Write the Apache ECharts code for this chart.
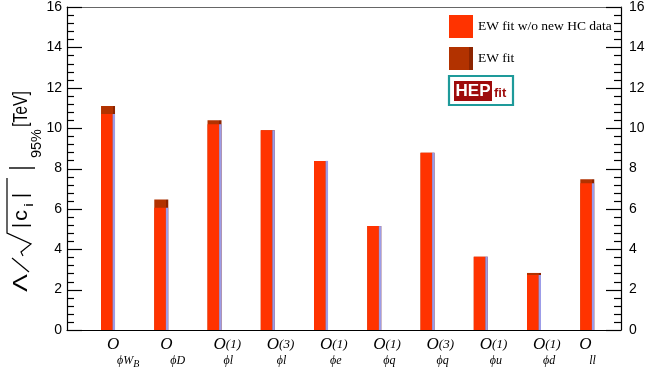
<!DOCTYPE html>
<html>
<head>
<meta charset="utf-8">
<script src="https://cdn.jsdelivr.net/npm/echarts@6/dist/echarts.min.js"></script>
<style>
  html, body { margin: 0; padding: 0; background: #fff; }
  #chart { width: 656px; height: 374px; }
</style>
</head>
<body>
<div id="chart"></div>
<script>
// Operators (x categories), split into their typeset parts
const categories = ['O_phiWB', 'O_phiD', 'O_phil1', 'O_phil3', 'O_phie1', 'O_phiq1', 'O_phiq3', 'O_phiu1', 'O_phid1', 'O_ll'];
const operatorSup = ['', '', '(1)', '(3)', '(1)', '(1)', '(3)', '(1)', '(1)', ''];
const operatorSub = ['ϕW', 'ϕD', 'ϕl', 'ϕl', 'ϕe', 'ϕq', 'ϕq', 'ϕu', 'ϕd', 'll'];
const operatorSubSub = ['B', '', '', '', '', '', '', '', '', ''];

// 95% bounds on Lambda / sqrt(|c_i|) in TeV
const ewFit = [11.0, 6.4, 10.3, 9.8, 8.3, 5.1, 8.7, 3.6, 2.8, 7.4];
const ewFitNoHC = [10.6, 6.0, 10.1, 9.8, 8.3, 5.1, 8.7, 3.6, 2.7, 7.2];

// Value axis
const yMin = 0;
const yMax = 16;
const yStep = 2;
const yMinorDivisions = 5;

const RED = '#ff3300';
const DARK = '#b23200';
const LAVENDER = '#9c9ce8';

const chart = echarts.init(document.getElementById('chart'));

// Tick positions along the value axis: [value, isMajor]
const tickMarks = [];
for (let k = 0; k <= Math.round((yMax - yMin) / yStep) * yMinorDivisions; k++) {
  tickMarks.push([yMin + k * yStep / yMinorDivisions, k % yMinorDivisions === 0 ? 1 : 0]);
}

// Frame axes: line + labels
const frameY = (side) => ({
  type: 'value', gridIndex: 0, position: side, min: yMin, max: yMax, interval: yStep,
  axisLine: { show: true, onZero: false, lineStyle: { color: '#000', width: 1.2 } },
  axisTick: { show: false },
  splitLine: { show: false },
  axisLabel: {
    color: '#000', fontFamily: 'Liberation Sans', fontSize: 14,
    margin: side === 'left' ? 5 : 8
  }
});

const hiddenY = (grid) => ({
  type: 'value', gridIndex: grid, min: yMin, max: yMax, interval: yStep, show: false
});

function operatorLabel(value, i) {
  const lead = i === categories.length - 1 ? 'leadT' : 'lead';
  let top = '{' + lead + '| }{o|O}';
  if (operatorSup[i]) top += '{sup|' + operatorSup[i] + '}';
  let bottom = '{' + lead + '| }{gap| }{sub|' + operatorSub[i] + '}';
  if (operatorSubSub[i]) bottom += '{ssub|' + operatorSubSub[i] + '}';
  return top + '\n' + bottom;
}

// Inward frame ticks on both edges, drawn through the frame grid's scales
function renderTicks(params, api) {
  const v = api.value(1);
  const len = api.value(2) ? 15 : 7;
  const l = api.coord([0, v]);
  const r = api.coord([1, v]);
  const y = Math.round(l[1]) + 0.5;
  const st = { stroke: '#000', lineWidth: 1.2 };
  return {
    type: 'group',
    children: [
      { type: 'line', shape: { x1: l[0], y1: y, x2: l[0] + len, y2: y }, style: st },
      { type: 'line', shape: { x1: r[0] - len, y1: y, x2: r[0], y2: y }, style: st }
    ]
  };
}

// Axis title pieces laid along the reading direction of a rotated group
const measureCtx = document.createElement('canvas').getContext('2d');
function stretchedText(text, x0, x1, y, font) {
  measureCtx.font = font;
  const w = measureCtx.measureText(text).width;
  return {
    type: 'text', x: x0, y: y, scaleX: (x1 - x0) / w,
    style: { text: text, font: font, fill: '#000', textVerticalAlign: 'middle' }
  };
}

const titleChildren = [
  stretchedText('Λ', 1, 19, 0, '21px Liberation Sans'),
  { type: 'line', shape: { x1: 21, y1: 8, x2: 35, y2: -9 }, style: { stroke: '#000', lineWidth: 1.2 } },
  { type: 'polyline', shape: { points: [[37, 2], [41, 0], [49, 10], [60, -14], [115, -14]] },
    style: { stroke: '#000', lineWidth: 1.2, fill: null } },
  stretchedText('|', 65, 70, 0, '20px Liberation Sans'),
  stretchedText('c', 72, 83, 0, '20px Liberation Sans'),
  stretchedText('i', 86, 90, 8, '13px Liberation Sans'),
  stretchedText('|', 95, 100, 0, '20px Liberation Sans'),
  { type: 'line', shape: { x1: 125, y1: -12, x2: 125, y2: 14 }, style: { stroke: '#000', lineWidth: 1.4 } },
  stretchedText('95%', 135, 164, 16, '14px Liberation Sans'),
  stretchedText('[TeV]', 166, 202, 0, '21px Liberation Sans')
];

const option = {
  animation: false,
  backgroundColor: '#fff',
  grid: [
    // frame with both value axes
    { left: 67, right: 35, top: 4, bottom: 44 },
    // bars
    { left: 81.4, right: 42.1, top: 4, bottom: 44 },
    // operator labels
    { left: 73.4, right: 50.1, top: 4, bottom: 44 }
  ],
  xAxis: [
    { type: 'value', gridIndex: 0, position: 'bottom', min: 0, max: 1,
      axisLine: { show: true, onZero: false, lineStyle: { color: '#000', width: 1.2 } },
      axisTick: { show: false }, axisLabel: { show: false }, splitLine: { show: false } },
    { type: 'value', gridIndex: 0, position: 'top', min: 0, max: 1,
      axisLine: { show: true, onZero: false, lineStyle: { color: '#666', width: 1 } },
      axisTick: { show: false }, axisLabel: { show: false }, splitLine: { show: false } },
    { type: 'category', gridIndex: 1, data: categories, show: false },
    { type: 'category', gridIndex: 1, data: categories, show: false },
    { type: 'category', gridIndex: 2, data: categories,
      axisLine: { show: false }, axisTick: { show: false },
      axisLabel: {
        interval: 0, align: 'left', margin: 7,
        formatter: operatorLabel,
        rich: {
          lead: { width: 7 },
          leadT: { width: 0 },
          gap: { width: 10 },
          o: { fontFamily: 'Liberation Serif', fontStyle: 'italic', fontSize: 17, color: '#000', lineHeight: 16 },
          sup: { fontFamily: 'Liberation Serif', fontStyle: 'italic', fontSize: 13, color: '#000', lineHeight: 16 },
          sub: { fontFamily: 'Liberation Serif', fontStyle: 'italic', fontSize: 12, color: '#000', lineHeight: 15 },
          ssub: { fontFamily: 'Liberation Serif', fontStyle: 'italic', fontSize: 10, color: '#000', lineHeight: 15, padding: [7, 0, 0, 0] }
        }
      } }
  ],
  yAxis: [frameY('left'), frameY('right'), hiddenY(1), hiddenY(2)],
  legend: {
    data: ['EW fit w/o new HC data', 'EW fit'],
    orient: 'vertical', left: 444, top: 10,
    itemWidth: 24, itemHeight: 23, itemGap: 9, icon: 'rect',
    textStyle: { fontFamily: 'Liberation Serif', fontSize: 13.5, color: '#000' },
    selectedMode: false
  },
  series: [
    {
      name: 'EW fit', type: 'bar', xAxisIndex: 2, yAxisIndex: 2,
      data: ewFit, barWidth: 14,
      itemStyle: {
        color: {
          type: 'linear', x: 0, y: 0, x2: 1, y2: 0,
          colorStops: [
            { offset: 0, color: DARK }, { offset: 0.82, color: DARK },
            { offset: 0.83, color: '#8c2400' }, { offset: 1, color: '#8c2400' }
          ]
        }
      }
    },
    {
      name: 'EW fit w/o new HC data', type: 'bar', xAxisIndex: 3, yAxisIndex: 2,
      data: ewFitNoHC, barWidth: 11.6, barGap: '0%',
      itemStyle: { color: RED }
    },
    {
      name: 'shade', type: 'bar', xAxisIndex: 3, yAxisIndex: 2,
      data: ewFitNoHC, barWidth: 2.4, barGap: '0%',
      itemStyle: { color: LAVENDER }
    },
    {
      name: 'frame ticks', type: 'custom', coordinateSystem: 'cartesian2d',
      xAxisIndex: 0, yAxisIndex: 0, silent: true, clip: false, z: 20,
      data: tickMarks.map(t => [0, t[0], t[1]]),
      encode: { x: 0, y: 1 },
      renderItem: renderTicks
    }
  ],
  graphic: [
    // vertical axis title: Lambda / sqrt(|c_i|) |_95% [TeV]
    { type: 'group', x: 21, y: 293, rotation: Math.PI / 2, children: titleChildren },
    // HEPfit badge
    {
      type: 'group', x: 449, y: 76,
      children: [
        { type: 'rect', shape: { x: 0, y: 0, width: 64, height: 29 }, style: { fill: '#fff', stroke: '#1e9a9a', lineWidth: 2.2 } },
        { type: 'rect', shape: { x: 5, y: 5, width: 38, height: 20 }, style: { fill: '#9e0b0b' } },
        { type: 'text', x: 24, y: 15.5, style: { text: 'HEP', font: 'bold 17px Liberation Sans', fill: '#fff', textAlign: 'center', textVerticalAlign: 'middle' } },
        { type: 'text', x: 45, y: 17.5, style: { text: 'fit', font: 'bold 13px Liberation Sans', fill: '#9e0b0b', textAlign: 'left', textVerticalAlign: 'middle' } }
      ]
    }
  ]
};

chart.setOption(option);
</script>
</body>
</html>
